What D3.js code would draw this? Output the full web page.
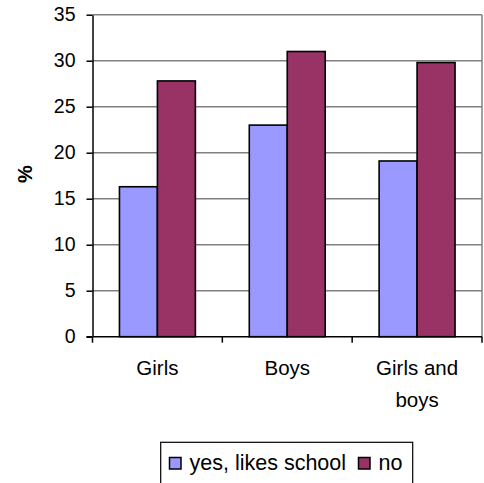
<!DOCTYPE html>
<html>
<head>
<meta charset="utf-8">
<script src="https://cdn.jsdelivr.net/npm/d3@7"></script>
<style>
  body { margin: 0; background: #fff; }
  text { font-family: "Liberation Sans", Arial, sans-serif; }
</style>
</head>
<body>
<svg id="chart"></svg>
<script>
// data
const categories = [["Girls"], ["Boys"], ["Girls and", "boys"]];
const seriesNames = ["yes, likes school", "no"];
const yesValues = [16.3, 23.0, 19.1];
const noValues = [27.8, 31.0, 29.8];
const yTicks = [0, 5, 10, 15, 20, 25, 30, 35];
const colors = ["#9999FF", "#993366"];

const W = 484, H = 483;
const plotLeft = 92.5, plotRight = 482, plotTop = 14.7, plotBottom = 336.7;

const svg = d3.select("#chart")
  .attr("width", W)
  .attr("height", H);

const catKeys = categories.map(c => c.join(" "));

const x0 = d3.scaleBand()
  .domain(catKeys)
  .range([plotLeft, plotRight]);

const x1 = d3.scaleBand()
  .domain(seriesNames)
  .range([0, x0.bandwidth()])
  .paddingInner(0)
  .paddingOuter(0.71);

const y = d3.scaleLinear()
  .domain([0, 35])
  .range([plotBottom, plotTop]);

// gridlines
svg.append("g")
  .selectAll("line")
  .data(yTicks.filter(d => d > 0))
  .join("line")
  .attr("x1", plotLeft)
  .attr("x2", plotRight)
  .attr("y1", d => y(d))
  .attr("y2", d => y(d))
  .attr("stroke", "#808080")
  .attr("stroke-width", 1.5);

// right border of plot area
svg.append("line")
  .attr("x1", plotRight).attr("x2", plotRight)
  .attr("y1", plotTop).attr("y2", plotBottom)
  .attr("stroke", "#808080")
  .attr("stroke-width", 1.5);

// bars
const rows = catKeys.map((k, i) => ({ key: k, values: [yesValues[i], noValues[i]] }));

const groups = svg.append("g")
  .selectAll("g")
  .data(rows)
  .join("g")
  .attr("transform", d => `translate(${x0(d.key)},0)`);

groups.selectAll("rect")
  .data(d => d.values.map((v, j) => ({ name: seriesNames[j], value: v, j })))
  .join("rect")
  .attr("x", d => x1(d.name))
  .attr("width", x1.bandwidth())
  .attr("y", d => y(d.value))
  .attr("height", d => y(0) - y(d.value))
  .attr("fill", d => colors[d.j])
  .attr("stroke", "#000")
  .attr("stroke-width", 1.6);

// y axis
const yAxis = svg.append("g")
  .attr("transform", `translate(${plotLeft},0)`)
  .call(d3.axisLeft(y).tickValues(yTicks).tickSize(6).tickSizeOuter(0).tickPadding(11));
yAxis.select(".domain").attr("stroke", "#000").attr("stroke-width", 1.5);
yAxis.selectAll(".tick line").attr("stroke", "#000").attr("stroke-width", 1.5);
yAxis.selectAll(".tick text")
  .attr("font-size", 19.5)
  .attr("fill", "#000")
  .style("font-family", "'Liberation Sans', Arial, sans-serif");

// x axis
const xAxis = svg.append("g")
  .attr("transform", `translate(0,${plotBottom})`);
xAxis.append("line")
  .attr("x1", plotLeft - 6).attr("x2", plotRight)
  .attr("y1", 0).attr("y2", 0)
  .attr("stroke", "#000")
  .attr("stroke-width", 1.5);
const tickXs = catKeys.map(k => x0(k)).concat([plotRight]);
xAxis.selectAll(".ctick")
  .data(tickXs)
  .join("line")
  .attr("class", "ctick")
  .attr("x1", d => d)
  .attr("x2", d => d)
  .attr("y1", 0).attr("y2", 6)
  .attr("stroke", "#000")
  .attr("stroke-width", 1.5);

const labels = xAxis.selectAll(".clabel")
  .data(categories)
  .join("text")
  .attr("class", "clabel")
  .attr("text-anchor", "middle")
  .attr("font-size", 20.5)
  .attr("fill", "#000");
labels.selectAll("tspan")
  .data((d, i) => d.map(line => ({ line, key: catKeys[i] })))
  .join("tspan")
  .attr("x", d => x0(d.key) + x0.bandwidth() / 2)
  .attr("y", (d, j) => 38.5 + j * 32)
  .text(d => d.line);

// y axis title
svg.append("text")
  .attr("transform", "translate(32,174) rotate(-90)")
  .attr("text-anchor", "middle")
  .attr("font-size", 20)
  .attr("font-weight", "bold")
  .text("%");

// legend
const legend = svg.append("g");
legend.append("rect")
  .attr("x", 160.7).attr("y", 442.3)
  .attr("width", 252).attr("height", 46)
  .attr("fill", "#fff")
  .attr("stroke", "#000")
  .attr("stroke-width", 1.2);

const legendX = [169.5, 358.5];
const items = legend.selectAll(".item")
  .data(seriesNames)
  .join("g")
  .attr("class", "item")
  .attr("transform", (d, i) => `translate(${legendX[i]},457.5)`);
items.append("rect")
  .attr("width", 11.5).attr("height", 11.5)
  .attr("fill", (d, i) => colors[i])
  .attr("stroke", "#000")
  .attr("stroke-width", 1.5);
items.append("text")
  .attr("x", 20)
  .attr("y", 12.5)
  .attr("font-size", 21.5)
  .text(d => d);
</script>
</body>
</html>
